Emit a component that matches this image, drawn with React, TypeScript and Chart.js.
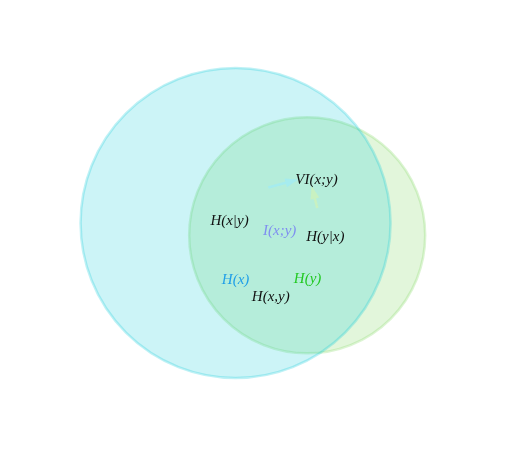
import { useEffect, useRef } from 'react';
import { Chart, registerables } from 'chart.js';

Chart.register(...registerables);

// circles: centre x, centre y, radius (in pixel-like data units)
const setNames = ['H(x)', 'H(y)'];
const circleX = [193, 370];
const circleY = [197, 234];
const circleR = [155, 118];
const fills = ['rgba(0, 200, 215, 0.2)', 'rgba(140, 220, 110, 0.25)'];
const borders = ['rgba(0, 200, 215, 0.25)', 'rgba(140, 220, 110, 0.3)'];

// text labels
const labelText = ['H(x|y)', 'I(x;y)', 'H(y|x)', 'H(x)', 'H(y)', 'H(x,y)', 'VI(x;y)'];
const labelX = [178, 302, 415, 193, 371, 280, 393];
const labelY = [192, 222, 240, 368, 366, 421, 67];
const labelColor = ['#111', '#7f8ff0', '#111', '#1f9fe8', '#22c922', '#111', '#111'];

// arrows: from -> to
const arrowFromX = [274, 395];
const arrowFromY = [90, 152];
const arrowToX = [348, 381];
const arrowToY = [66, 86];
const arrowColor = ['#a6ecee', '#c9f1c1'];

const overlay = {
  id: 'overlay',
  afterDatasetsDraw(chart: Chart) {
    const { ctx, scales } = chart;
    const sx = scales.x, sy = scales.y;
    ctx.save();
    arrowFromX.forEach((_, i) => {
      const x1 = sx.getPixelForValue(arrowFromX[i]);
      const y1 = sy.getPixelForValue(arrowFromY[i]);
      const x2 = sx.getPixelForValue(arrowToX[i]);
      const y2 = sy.getPixelForValue(arrowToY[i]);
      const a = Math.atan2(y2 - y1, x2 - x1);
      ctx.strokeStyle = arrowColor[i];
      ctx.fillStyle = arrowColor[i];
      ctx.lineWidth = 2.5;
      ctx.beginPath();
      ctx.moveTo(x1, y1);
      ctx.lineTo(x2 - 10 * Math.cos(a), y2 - 10 * Math.sin(a));
      ctx.stroke();
      ctx.beginPath();
      ctx.moveTo(x2, y2);
      ctx.lineTo(x2 - 13 * Math.cos(a) + 4.5 * Math.sin(a), y2 - 13 * Math.sin(a) - 4.5 * Math.cos(a));
      ctx.lineTo(x2 - 13 * Math.cos(a) - 4.5 * Math.sin(a), y2 - 13 * Math.sin(a) + 4.5 * Math.cos(a));
      ctx.closePath();
      ctx.fill();
    });
    ctx.font = 'italic 15px "Liberation Serif", serif';
    ctx.textAlign = 'center';
    ctx.textBaseline = 'middle';
    labelText.forEach((t, i) => {
      ctx.fillStyle = labelColor[i];
      ctx.fillText(t, sx.getPixelForValue(labelX[i]), sy.getPixelForValue(labelY[i]));
    });
    ctx.restore();
  },
};

export default function App() {
  const ref = useRef<HTMLCanvasElement>(null);
  useEffect(() => {
    document.body.style.margin = '0';
    if (!ref.current) return;
    const chart = new Chart(ref.current, {
      type: 'bubble',
      data: {
        datasets: setNames.map((n, i) => ({
          label: n,
          data: [{ x: circleX[i], y: circleY[i], r: circleR[i] }],
          backgroundColor: fills[i],
          borderColor: borders[i],
          borderWidth: 2.5,
          clip: false,
        })),
      },
      options: {
        responsive: true,
        maintainAspectRatio: false,
        animation: false,
        layout: { padding: 0 },
        plugins: { legend: { display: false }, tooltip: { enabled: false } },
        scales: {
          x: { type: 'linear', min: 0, max: 529, display: false },
          y: { type: 'linear', min: 0, max: 472, reverse: true, display: false },
        },
      },
      plugins: [overlay],
    });
    return () => chart.destroy();
  }, []);
  return (
    <div style={{ position: 'absolute', left: 0, top: 0, width: 529, height: 472 }}>
      <canvas ref={ref} />
    </div>
  );
}
